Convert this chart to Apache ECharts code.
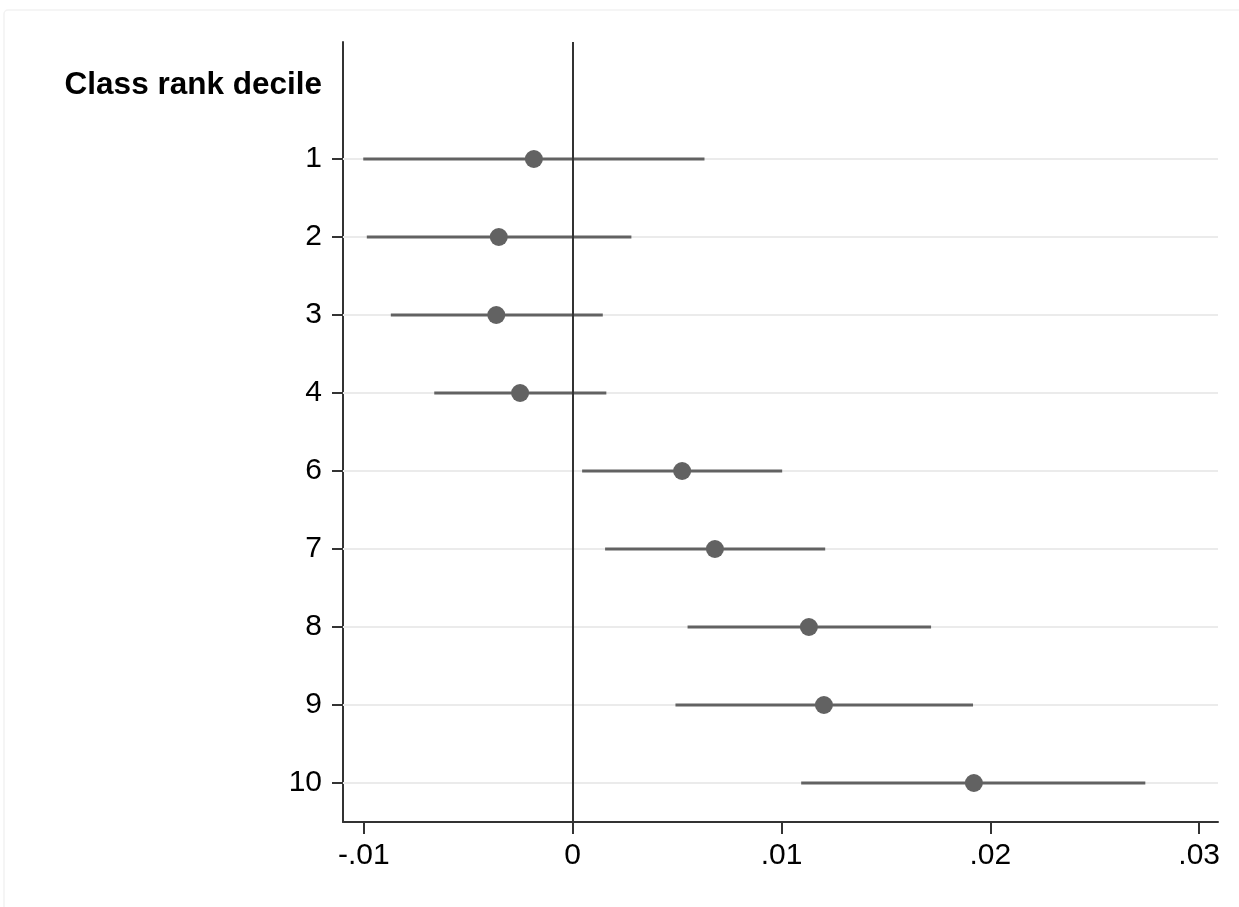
<!DOCTYPE html>
<html>
<head>
<meta charset="utf-8">
<title>Class rank decile estimates</title>
<script src="https://cdn.jsdelivr.net/npm/echarts@6/dist/echarts.min.js"></script>
<style>
  html, body { margin: 0; padding: 0; background: #ffffff; }
  #chart { width: 1239px; height: 907px; }
</style>
</head>
<body>
<div id="chart"></div>
<script>
// Row header and decile labels (top to bottom)
const headerLabel = 'Class rank decile';
const deciles = ['1', '2', '3', '4', '6', '7', '8', '9', '10'];

// Point estimates and confidence bounds per decile
const estimates = [-0.00186, -0.00354, -0.00366, -0.00252, 0.00524, 0.00681, 0.01131, 0.01203, 0.01921];
const lowerBounds = [-0.01003, -0.00986, -0.00871, -0.00663, 0.00045, 0.00155, 0.00550, 0.00492, 0.01094];
const upperBounds = [0.00631, 0.00281, 0.00144, 0.00161, 0.01003, 0.01209, 0.01716, 0.01917, 0.02742];

// x-axis tick positions
const xTicks = [-0.01, 0, 0.01, 0.02, 0.03];

const FONT = '"Liberation Sans", Arial, Helvetica, sans-serif';
const AXIS_COLOR = '#333333';
const MARK_COLOR = '#626262';
const GRID_COLOR = '#ebebeb';

const categories = [headerLabel].concat(deciles);

function formatTick(v) {
  if (Math.abs(v) < 1e-12) return '0';
  const s = Math.abs(v).toFixed(2).replace(/^0/, '');
  return (v < 0 ? '-' : '') + s;
}

const whiskerData = deciles.map((d, i) => [lowerBounds[i], upperBounds[i], d]);
const pointData = deciles.map((d, i) => [estimates[i], d]);

const chart = echarts.init(document.getElementById('chart'), null, { renderer: 'canvas' });

chart.setOption({
  backgroundColor: '#ffffff',
  animation: false,
  textStyle: { fontFamily: FONT },
  graphic: [{
    type: 'rect',
    shape: { x: 4, y: 10, width: 1260, height: 920, r: 4 },
    style: { fill: 'none', stroke: '#f2f2f2', lineWidth: 1.5 },
    silent: true,
    z: -10
  }],
  grid: { left: 343, right: 21, top: 42, bottom: 85, containLabel: false },
  xAxis: {
    type: 'value',
    min: -0.011,
    max: 0.0309,
    axisLine: { show: true, onZero: false, lineStyle: { color: AXIS_COLOR, width: 2 } },
    axisTick: {
      show: true,
      customValues: xTicks,
      length: 12,
      lineStyle: { color: AXIS_COLOR, width: 2 }
    },
    axisLabel: {
      customValues: xTicks,
      formatter: formatTick,
      fontSize: 30,
      color: '#000000',
      fontFamily: FONT,
      margin: 19
    },
    splitLine: { show: false }
  },
  yAxis: {
    type: 'category',
    data: categories,
    inverse: true,
    boundaryGap: true,
    axisLine: { show: true, onZero: false, lineStyle: { color: AXIS_COLOR, width: 2 } },
    axisTick: {
      show: true,
      alignWithLabel: true,
      length: 11,
      interval: (idx) => idx > 0,
      lineStyle: { color: AXIS_COLOR, width: 2 }
    },
    axisLabel: {
      interval: 0,
      margin: 21,
      fontSize: 30,
      color: '#000000',
      fontFamily: FONT,
      formatter: (value, idx) => idx === 0 ? '{h|' + value + '}' : value,
      rich: {
        h: { fontSize: 31.5, fontWeight: 'bold', color: '#000000', fontFamily: FONT, padding: [8, 0, 0, 0] }
      }
    },
    splitLine: { show: false }
  },
  series: [
    {
      // Light horizontal guide lines at each decile row
      type: 'scatter',
      data: [],
      silent: true,
      z: 1,
      markLine: {
        silent: true,
        symbol: 'none',
        z: 1,
        label: { show: false },
        lineStyle: { type: 'solid', color: GRID_COLOR, width: 2 },
        data: deciles.map((d) => ({ yAxis: d }))
      }
    },
    {
      // Confidence interval bars
      type: 'custom',
      z: 2,
      silent: true,
      data: whiskerData,
      encode: { x: [0, 1], y: 2 },
      renderItem: function (params, api) {
        const a = api.coord([api.value(0), api.value(2)]);
        const b = api.coord([api.value(1), api.value(2)]);
        return {
          type: 'line',
          shape: { x1: a[0], y1: a[1], x2: b[0], y2: b[1] },
          style: { stroke: MARK_COLOR, lineWidth: 3 }
        };
      }
    },
    {
      // Point estimates, with the zero reference line
      type: 'scatter',
      z: 4,
      data: pointData,
      symbol: 'circle',
      symbolSize: 18,
      itemStyle: { color: MARK_COLOR, opacity: 1 },
      markLine: {
        silent: true,
        symbol: 'none',
        z: 3,
        label: { show: false },
        lineStyle: { type: 'solid', color: AXIS_COLOR, width: 2 },
        data: [{ xAxis: 0 }]
      }
    }
  ]
});
</script>
</body>
</html>
